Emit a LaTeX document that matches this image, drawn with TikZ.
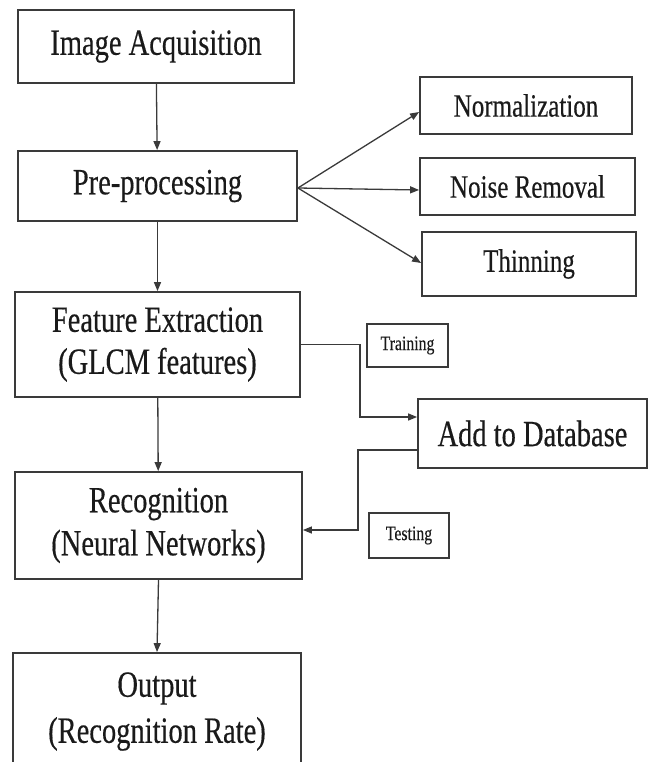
\documentclass[tikz,border=0pt]{standalone}
\usepackage{fontspec}
\setmainfont{Liberation Serif}[FakeStretch=0.77,FakeBold=0.4]
\usetikzlibrary{arrows.meta}
\definecolor{ink}{HTML}{1A1A1A}
\definecolor{edge}{HTML}{3A3A3A}
\begin{document}
\begin{tikzpicture}[x=1pt,y=-1pt,
  box/.style={draw=edge,line width=1.8pt,text=ink,align=center,inner sep=0pt},
  big/.style={box,font=\fontsize{37}{43}\selectfont},
  mid/.style={box,font=\fontsize{32.5}{38}\selectfont},
  tag/.style={box,line width=1.5pt,font=\fontsize{20.5}{24}\selectfont},
  arr/.style={draw=edge,line width=1.3pt,-{Triangle[length=9pt,width=7pt]}}]
\useasboundingbox (0,0) rectangle (649,762);
\node[big,minimum width=276pt,minimum height=73pt] (acq) at (156,46.5) {Image Acquisition};
\node[big,minimum width=279pt,minimum height=70pt] (pre) at (157.5,186) {Pre-processing};
\node[big,minimum width=285pt,minimum height=105pt,font=\fontsize{37}{42}\selectfont] (feat) at (157.5,344.5) {Feature Extraction\\(GLCM features)};
\node[big,minimum width=287pt,minimum height=107pt] (rec) at (158.5,525.5) {Recognition\\(Neural Networks)};
\node[big,minimum width=288pt,minimum height=117pt,font=\fontsize{37}{46}\selectfont] (out) at (157,711.5) {Output\\(Recognition Rate)};
\node[mid,minimum width=212pt,minimum height=57pt] (norm) at (526,105.5) {Normalization};
\node[mid,minimum width=215pt,minimum height=57pt] (noise) at (527.5,186.5) {Noise Removal};
\node[mid,minimum width=214pt,minimum height=64pt] (thin) at (529,264) {Thinning};
\node[tag,minimum width=81pt,minimum height=43pt] (train) at (407.5,345.5) {Training};
\node[big,minimum width=229pt,minimum height=69pt] (db) at (532.5,433.5) {Add to Database};
\node[tag,minimum width=80pt,minimum height=45pt] (test) at (409,535.5) {Testing};
\draw[arr] (acq) -- (pre);
\draw[arr] (pre) -- (feat);
\draw[arr] (feat) -- (rec);
\draw[arr] (rec.south) -- (out.north);
\draw[arr] ([yshift=-2pt]pre.east) -- ([yshift=-6.5pt]norm.west);
\draw[arr] ([yshift=-2pt]pre.east) -- ([yshift=-3.5pt]noise.west);
\draw[arr] ([yshift=-2pt]pre.east) -- ([yshift=1pt]thin.west);
\draw[arr] (feat.east) -- ++(59,0) |- ([yshift=16.5pt]db.west);
\draw[arr] ([yshift=-16.5pt]db.west) -- ++(-59,0) |- ([yshift=-4.5pt]rec.east);
\end{tikzpicture}
\end{document}
